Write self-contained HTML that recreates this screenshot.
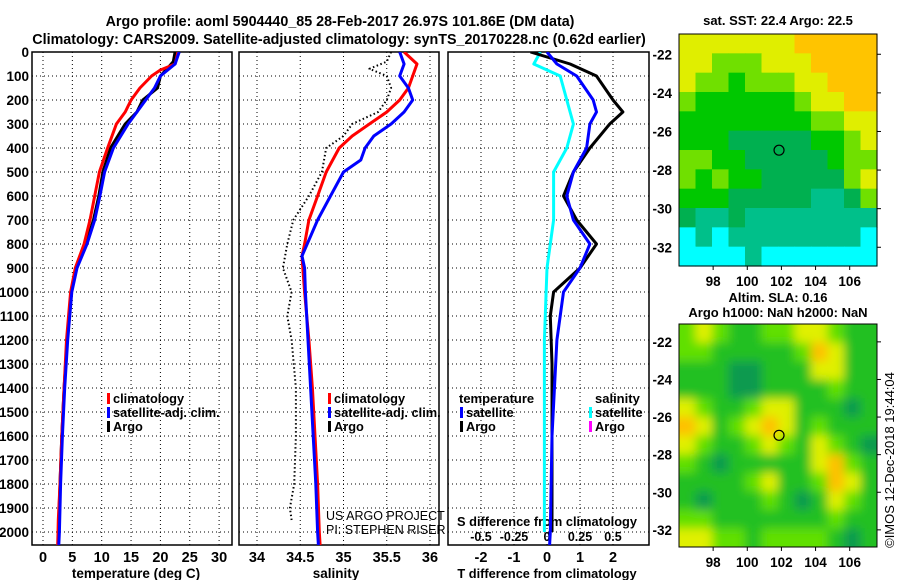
<!DOCTYPE html>
<html><head><meta charset="utf-8"><style>
html,body{margin:0;padding:0;background:#fff}
svg{display:block}
text{font-family:"Liberation Sans",sans-serif;font-weight:bold;font-size:14.5px;fill:#000}
</style></head><body>
<svg id="c" width="900" height="580" xmlns="http://www.w3.org/2000/svg">
<defs>
<clipPath id="cp1"><rect x="32" y="52" width="200" height="493"/></clipPath>
<clipPath id="cp2"><rect x="239" y="52" width="200" height="493"/></clipPath>
<clipPath id="cp3"><rect x="448" y="52" width="201" height="493"/></clipPath>
<clipPath id="cpm2"><rect x="679" y="324" width="198" height="223"/></clipPath>
<filter id="blur" x="-10%" y="-10%" width="120%" height="120%"><feGaussianBlur stdDeviation="5"/></filter>
</defs>
<text x="340" y="26" text-anchor="middle" style="font-size:14.3px">Argo profile: aoml 5904440_85 28-Feb-2017 26.97S 101.86E (DM data)</text>
<text x="339" y="44" text-anchor="middle" style="font-size:14.3px">Climatology: CARS2009. Satellite-adjusted climatology: synTS_20170228.nc (0.62d earlier)</text>
<g id="g"></g>
</svg>
<script>
// ---- profile data ----
const depthTicks=[0,100,200,300,400,500,600,700,800,900,1000,1100,1200,1300,1400,1500,1600,1700,1800,1900,2000];
const tempTicks=[0,5,10,15,20,25,30];
const salTicks=[34,34.5,35,35.5,36];
const tdTicks=[-2,-1,0,1,2];
const sdTicks=[-0.5,-0.25,0,0.25,0.5];
const sdTickLabels=["-0.5","-0.25","0","0.25","0.5"];

const tClimDepth=[0,50,75,100,150,200,250,300,400,500,600,700,800,900,1000,1200,1400,1600,1800,1950,2054];
const tClim=[23,22.5,20,18.5,16.5,15,14,12.5,11,9.6,8.8,8,7,5.5,4.7,4,3.6,3.2,2.9,2.6,2.5];
const tSatDepth=[0,50,100,150,200,250,300,400,500,600,700,800,900,1000,1200,1400,1600,1800,2000,2054];
const tSat=[23.2,22.5,20,19,17.5,16,14.5,12,10.5,9.7,8.8,7.5,5.8,4.9,4.2,3.7,3.3,3,2.8,2.7];
const tArgoDepth=[0,40,60,100,150,200,250,300,400,500,600,700,800,900,1000,1200,1400,1600,1800,1950];
const tArgo=[22.5,22.2,21.5,20,19.5,17,16,14,11.5,10.2,9.5,8.6,7.3,5.7,4.8,4.1,3.6,3.2,2.9,2.7];

const sClimDepth=[0,50,100,150,200,250,300,350,400,500,600,700,800,850,900,1000,1200,1400,1600,1800,2000,2054];
const sClim=[35.7,35.85,35.8,35.75,35.65,35.5,35.3,35.1,34.95,34.8,34.7,34.6,34.55,34.52,34.53,34.55,34.6,34.64,34.67,34.7,34.72,34.73];
const sSatDepth=[0,50,100,150,200,250,300,350,400,450,500,600,700,800,850,900,1000,1200,1400,1600,1800,2000,2054];
const sSat=[35.65,35.7,35.65,35.75,35.8,35.7,35.55,35.35,35.25,35.2,35.0,34.85,34.7,34.58,34.52,34.55,34.56,34.59,34.62,34.65,34.68,34.7,34.71];
const sArgoDepth=[0,40,70,100,150,200,250,300,350,400,500,600,700,800,900,1000,1100,1200,1400,1600,1800,1900,1950];
const sArgo=[35.55,35.5,35.3,35.5,35.55,35.5,35.4,35.1,35.0,34.8,34.75,34.6,34.42,34.35,34.3,34.4,34.35,34.4,34.45,34.45,34.43,34.38,34.4];

const tdSatDepth=[0,50,100,200,250,300,400,500,600,700,800,900,1000,1200,1600,2000,2054];
const tdSat=[0,0.3,0.9,1.4,1.5,1.3,1.2,0.8,0.6,0.8,1.3,1.0,0.5,0.3,0.15,0.1,0.08];
const tdArgoDepth=[0,50,100,200,250,300,400,500,600,700,800,900,1000,1100,1300,1600,2000];
const tdArgo=[-0.5,0.7,1.5,2.0,2.3,1.9,1.3,0.8,0.5,0.9,1.5,1.0,0.2,0.1,0.15,0.15,0.15];
const sdSatDepth=[0,50,100,200,300,400,500,700,900,1200,1600,2000];
const sdSat=[-0.05,-0.1,0.1,0.15,0.2,0.15,0.05,0.05,0,-0.02,-0.02,-0.02];

// ---- map data ----
const lonTicks=[98,100,102,104,106];
const latTicks=[-22,-24,-26,-28,-30,-32];
const sstGrid=[
[5,5,5,5,5,5,5,6,6,6,6,6],
[5,5,4,4,4,5,5,5,6,6,6,6],
[5,4,4,3,4,4,4,5,5,6,6,6],
[4,3,3,3,3,3,3,4,5,5,6,6],
[3,3,3,3,3,3,3,3,4,4,5,5],
[3,3,3,2,2,2,2,2,3,3,4,5],
[4,4,3,3,2,2,2,2,2,3,4,4],
[4,3,4,3,3,2,2,2,2,2,4,5],
[3,3,3,2,2,2,2,2,1,1,2,4],
[2,1,1,2,1,1,1,1,1,1,1,1],
[0,1,0,1,1,1,1,1,1,1,1,0],
[0,0,0,0,1,0,0,0,0,0,0,0]];
const slaGrid=[
[2,3,2,1,1,2,2,3,3,2,1,1],
[2,2,1,1,1,1,1,2,4,3,1,1],
[1,1,1,0,0,1,1,1,3,3,1,1],
[1,1,1,0,0,1,1,1,1,2,1,1],
[3,2,1,1,2,3,3,1,1,1,0,1],
[4,3,1,2,3,4,3,1,2,1,1,1],
[3,2,1,1,2,3,2,1,3,2,1,0],
[2,1,0,1,1,1,1,1,3,4,2,1],
[1,1,1,1,2,3,1,1,2,4,3,1],
[1,0,1,1,1,2,1,0,1,3,2,1],
[2,2,1,1,1,1,1,1,1,2,1,1],
[3,3,2,2,1,2,2,2,2,1,0,1]];
const profLon=101.86, profLat=-26.97;

const NS="http://www.w3.org/2000/svg";
const G=document.getElementById('g');
function el(t,a,p){const e=document.createElementNS(NS,t);for(const k in a)e.setAttribute(k,a[k]);(p||G).appendChild(e);return e;}
function txt(x,y,s,a){const e=el('text',Object.assign({x:x,y:y},a||{}));e.textContent=s;return e;}

const yD=d=>52+d*0.24;
const P1={l:32,r:232,x:v=>43+v*5.87};
const P2={l:239,r:439,x:v=>257+(v-34)*86.5};
const P3={l:448,r:649,x:v=>547+v*33};
const sdX=v=>547+v*132;

function panel(P,name,vt){
  const fr=el('rect',{x:P.l,y:52,width:P.r-P.l,height:493,fill:'#fff',stroke:'#000','stroke-width':1.5});
  
  depthTicks.forEach(d=>{const l=el('line',{x1:P.l,x2:P.r,y1:yD(d),y2:yD(d),stroke:'#000','stroke-dasharray':'1 3'});
    });
  vt.forEach(v=>{const l=el('line',{x1:P.x(v),x2:P.x(v),y1:52,y2:545,stroke:'#000','stroke-dasharray':'1 3'});
    });
}
panel(P1,'temperature-panel',tempTicks);
panel(P2,'salinity-panel',salTicks);
panel(P3,'difference-panel',tdTicks);

depthTicks.forEach(d=>{const t=txt(29,yD(d)+5,String(d),{'text-anchor':'end',style:'font-size:13.5px'});
  });
tempTicks.forEach(v=>{const t=txt(P1.x(v),562,String(v),{'text-anchor':'middle'});
  });
salTicks.forEach(v=>{const t=txt(P2.x(v),562,String(v),{'text-anchor':'middle'});
  });
tdTicks.forEach(v=>{const t=txt(P3.x(v),562,String(v),{'text-anchor':'middle'});
  });
sdTicks.forEach((v,i)=>{const t=txt(sdX(v),541,sdTickLabels[i],{'text-anchor':'middle',style:'font-size:12.5px'});
  });

let t;
t=txt(136,578,'temperature (deg C)',{'text-anchor':'middle',style:'font-size:13.5px'});
t=txt(336,578,'salinity',{'text-anchor':'middle',style:'font-size:13.5px'});
t=txt(547,578,'T difference from climatology',{'text-anchor':'middle',style:'font-size:12.8px'});
t=txt(547,526,'S difference from climatology',{'text-anchor':'middle',style:'font-size:12.8px'});

function line(ds,vs,xf,color,clip,name,w,dash){
  const pts=ds.map((d,i)=>xf(vs[i]).toFixed(1)+','+yD(d).toFixed(1)).join(' ');
  const a={points:pts,fill:'none',stroke:color,'stroke-width':w||3,'clip-path':'url(#'+clip+')','stroke-linejoin':'round'};
  if(dash)a['stroke-dasharray']=dash;
  const p=el('polyline',a);
}
line(tArgoDepth,tArgo,P1.x,'#000','cp1','temp-argo-line');
line(tClimDepth,tClim,P1.x,'#f00','cp1','temp-climatology-line');
line(tSatDepth,tSat,P1.x,'#00f','cp1','temp-satellite-line');
line(sArgoDepth,sArgo,P2.x,'#000','cp2','sal-argo-line',2,'1.5 2.5');
line(sClimDepth,sClim,P2.x,'#f00','cp2','sal-climatology-line');
line(sSatDepth,sSat,P2.x,'#00f','cp2','sal-satellite-line');
line(sdSatDepth,sdSat,sdX,'#0ff','cp3','s-diff-satellite-line');
line(tdArgoDepth,tdArgo,P3.x,'#000','cp3','t-diff-argo-line');
line(tdSatDepth,tdSat,P3.x,'#00f','cp3','t-diff-satellite-line');

function legend(x,y,color,label,name){
  const r=el('rect',{x:x,y:y-10,width:3,height:11,fill:color});
  const tt=txt(x+6,y,label,{style:'font-size:12.8px'});
}
legend(107,403,'#f00','climatology','legend-temp-climatology');
legend(107,417,'#00f','satellite-adj. clim.','legend-temp-satellite');
legend(107,431,'#000','Argo','legend-temp-argo');
legend(328,403,'#f00','climatology','legend-sal-climatology');
legend(328,417,'#00f','satellite-adj. clim.','legend-sal-satellite');
legend(328,431,'#000','Argo','legend-sal-argo');
t=txt(459,403,'temperature',{style:'font-size:13px'});
t=txt(595,403,'salinity',{style:'font-size:13px'});
legend(460,417,'#00f','satellite','legend-tdiff-satellite');
legend(460,431,'#000','Argo','legend-tdiff-argo');
legend(589,417,'#0ff','satellite','legend-sdiff-satellite');
legend(589,431,'#f0f','Argo','legend-sdiff-argo');
t=txt(326,520,'US ARGO PROJECT',{style:'font-weight:normal;font-size:12.5px'});
t=txt(326,534,'PI: STEPHEN RISER',{style:'font-weight:normal;font-size:12.5px'});

// ---- maps ----
const MX=v=>679+(v-96)*17.07;
const sstCol=['#00ffff','#00c08a','#00b050','#00c800','#70e000','#e0ee00','#ffc400'];
const slaCol=['#109a50','#20c020','#60e000','#e0f000','#ffc000'];
function map(top,bot,latTop,pxDeg,grid,cols,name,blur,clip){
  const MY=v=>top+(latTop-v)*pxDeg;
  const g=el('g',blur?{'clip-path':'url(#'+clip+')'}:{});
  const gi=el('g',blur?{filter:'url(#blur)'}:{},g);
  const rows=grid.length,nc=grid[0].length,cw=198/nc,rh=(bot-top)/rows;
  grid.forEach((row,r)=>row.forEach((v,c)=>{
    const ex=blur?10:0;
    const x=679+c*cw-(c==0?ex:0), y=top+r*rh-(r==0?ex:0);
    const w=cw+0.6+(c==0||c==nc-1?ex:0), h=rh+0.6+(r==0||r==rows-1?ex:0);
    const rc=el('rect',{x:x,y:y,width:w,height:h,fill:cols[v]},gi);
    
  }));
  const fr=el('rect',{x:679,y:top,width:198,height:bot-top,fill:'none',stroke:'#000','stroke-width':1});
  
  latTicks.forEach(v=>{const tt=txt(672,MY(v)+5,String(v),{'text-anchor':'end',style:'font-size:13.5px'});
    
    el('line',{x1:877,x2:881,y1:MY(v),y2:MY(v),stroke:'#000'});});
  lonTicks.forEach(v=>{const tt=txt(MX(v),bot+20,String(v),{'text-anchor':'middle',style:'font-size:13.5px'});
    
    el('line',{x1:MX(v),x2:MX(v),y1:bot,y2:bot+4,stroke:'#000'});});
  const c=el('circle',{cx:MX(profLon),cy:MY(profLat),r:5,fill:'none',stroke:'#000','stroke-width':1.2});
  
}
map(34,266,-20.95,19.3,sstGrid,sstCol,'sst-map',false);
map(324,547,-21.05,18.8,slaGrid,slaCol,'sla-map',true,'cpm2');
t=txt(778,25,'sat. SST: 22.4 Argo: 22.5',{'text-anchor':'middle',style:'font-size:13px'});
t=txt(778,302,'Altim. SLA: 0.16',{'text-anchor':'middle',style:'font-size:13px'});
t=txt(778,317,'Argo h1000: NaN h2000: NaN',{'text-anchor':'middle',style:'font-size:13px'});
t=txt(0,0,'©IMOS 12-Dec-2018 19:44:04',{'text-anchor':'middle',style:'font-weight:normal;font-size:13px',transform:'translate(894,460) rotate(-90)'});

</script>
</body></html>
